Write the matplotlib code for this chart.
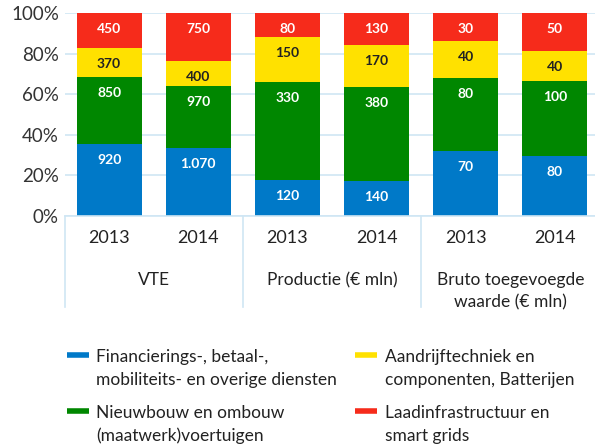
import numpy as np
import matplotlib.pyplot as plt
from matplotlib.lines import Line2D
import matplotlib.transforms as mtransforms

plt.rcParams['font.family'] = ['Lato', 'DejaVu Sans']

# data
groups = ['VTE', 'Productie (€ mln)', 'Bruto toegevoegde\nwaarde (€ mln)']
years = ['2013', '2014', '2013', '2014', '2013', '2014']
series = ['Financierings-, betaal-,\nmobiliteits- en overige diensten',
          'Nieuwbouw en ombouw\n(maatwerk)voertuigen',
          'Aandrijftechniek en\ncomponenten, Batterijen',
          'Laadinfrastructuur en\nsmart grids']
diensten = [920, 1070, 120, 140, 70, 80]
nieuwbouw = [850, 970, 330, 380, 80, 100]
aandrijf = [370, 400, 150, 170, 40, 40]
laad = [450, 750, 80, 130, 30, 50]

colors = ['#0079c8', '#008700', '#ffe100', '#f62b1b']
label_colors = ['white', 'white', '#222222', 'white']
grid_col = '#cfe6f4'
W, H = 595, 446

values = np.array([diensten, nieuwbouw, aandrijf, laad], dtype=float)
shares = values / values.sum(axis=0)

fig = plt.figure(figsize=(W / 100, H / 100), dpi=100)
ax = fig.add_axes([64.5 / W, 230 / H, 530.5 / W, 203 / H])

x = np.arange(len(years))
bottom = np.zeros(len(years))
for i in range(4):
    ax.bar(x, shares[i], 0.73, bottom=bottom, color=colors[i], zorder=2)
    for j in range(len(years)):
        txt = '{:,}'.format(int(values[i, j])).replace(',', '.')
        ax.annotate(txt, (x[j], bottom[j] + shares[i, j]), xytext=(0, -11.5),
                    textcoords='offset points', ha='center', va='center',
                    color=label_colors[i], fontsize=10, fontweight='bold')
    bottom += shares[i]

ax.set_xlim(-0.5, 5.45)
ax.set_ylim(0, 1)
ax.set_yticks(np.linspace(0, 1, 6))
ax.set_yticklabels(['0%', '20%', '40%', '60%', '80%', '100%'], fontsize=13.5, color='#333333')
ax.yaxis.grid(True, color=grid_col, lw=1.2, zorder=0)
ax.set_xticks(x)
ax.set_xticklabels(years, fontsize=13, color='#222222')
ax.tick_params(length=0)
ax.tick_params(axis='x', pad=10)
ax.tick_params(axis='y', pad=4)
for s in ['top', 'right', 'left']:
    ax.spines[s].set_visible(False)
ax.spines['bottom'].set_color(grid_col)
ax.spines['bottom'].set_linewidth(1.2)
ax.set_axisbelow(True)

# group separators and labels under the axis
trans = mtransforms.blended_transform_factory(ax.transData, ax.transAxes)
for sep in [-0.5, 1.5, 3.5]:
    ax.add_line(Line2D([sep, sep], [0, -0.45], transform=trans, color=grid_col,
                       lw=1.2, clip_on=False))
for k, g in enumerate(groups):
    ax.text(2 * k + 0.5, -0.275, g, transform=trans, ha='center', va='top',
            fontsize=12.5, color='#222222', linespacing=1.5)

# legend, two columns, swatch level with the first text line
leg_cols = [(67, 96.5), (355, 385)]
leg_rows = [355, 411]
order = [(0, 0), (0, 1), (1, 0), (1, 1)]  # (column, row) per series
for k, (c, r) in enumerate(order):
    sx, tx = leg_cols[c]
    sy = leg_rows[r]
    fig.add_artist(Line2D([sx / W, (sx + 22) / W], [1 - sy / H, 1 - sy / H],
                          color=colors[k], lw=4, solid_capstyle='butt'))
    for n, line in enumerate(series[k].split('\n')):
        base = sy + 7 + 23 * n
        fig.text(tx / W, 1 - base / H, line, ha='left', va='baseline',
                 fontsize=12.5, color='#222222')

fig.savefig('out.png', dpi=100)
